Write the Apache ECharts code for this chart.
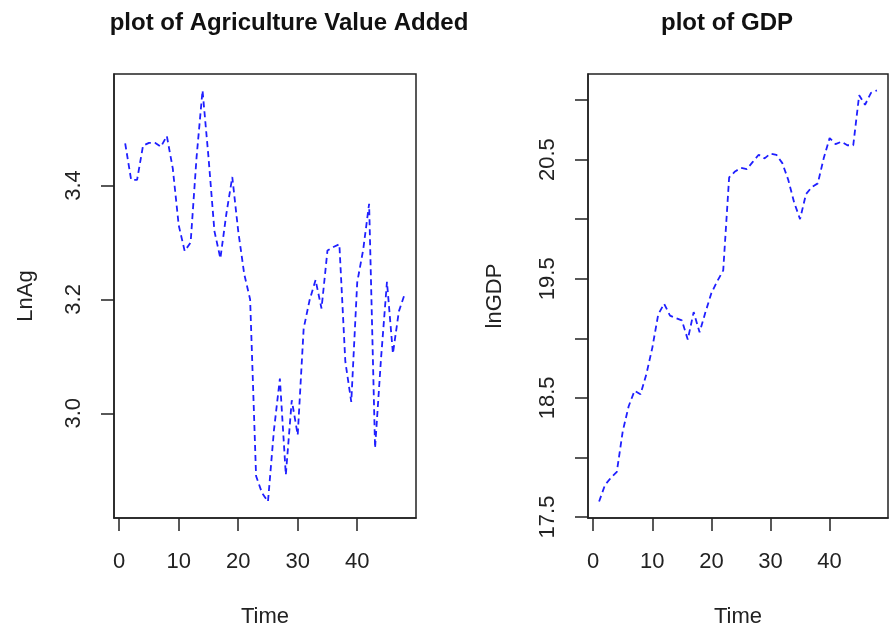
<!DOCTYPE html>
<html>
<head>
<meta charset="utf-8">
<script src="https://cdn.jsdelivr.net/npm/echarts@6/dist/echarts.min.js"></script>
<style>
  html, body { margin: 0; padding: 0; background: #fff; }
  #chart { width: 889px; height: 633px; }
</style>
</head>
<body>
<div id="chart"></div>
<script>
// time index 1..48
const time = [1, 2, 3, 4, 5, 6, 7, 8, 9, 10, 11, 12, 13, 14, 15, 16, 17, 18, 19, 20, 21, 22, 23, 24,
  25, 26, 27, 28, 29, 30, 31, 32, 33, 34, 35, 36, 37, 38, 39, 40, 41, 42, 43, 44, 45, 46, 47, 48];

// log of agriculture value added
const lnAg = [3.474, 3.41, 3.41, 3.47, 3.475, 3.475, 3.468, 3.487, 3.43, 3.33, 3.285, 3.30,
  3.45, 3.567, 3.45, 3.32, 3.272, 3.35, 3.415, 3.32, 3.245, 3.20, 2.89, 2.86,
  2.845, 2.97, 3.061, 2.892, 3.023, 2.962, 3.149, 3.199, 3.234, 3.184, 3.286, 3.292,
  3.297, 3.091, 3.02, 3.23, 3.287, 3.368, 2.939, 3.096, 3.231, 3.105, 3.179, 3.21];

// log of GDP
const lnGDP = [17.63, 17.77, 17.83, 17.88, 18.22, 18.43, 18.56, 18.53, 18.70, 18.92, 19.20, 19.29,
  19.19, 19.17, 19.15, 18.99, 19.22, 19.05, 19.22, 19.38, 19.48, 19.57, 20.35, 20.40,
  20.43, 20.42, 20.48, 20.54, 20.51, 20.55, 20.54, 20.47, 20.33, 20.14, 20.00, 20.21,
  20.27, 20.30, 20.51, 20.68, 20.63, 20.65, 20.62, 20.62, 21.04, 20.96, 21.06, 21.08];

const timeTicks = [0, 10, 20, 30, 40];
const agTicks = [3.0, 3.2, 3.4];
const gdpTicks = [17.5, 18.0, 18.5, 19.0, 19.5, 20.0, 20.5, 21.0];
const gdpLabels = [17.5, 18.5, 19.5, 20.5];

// R style axis range: data range stretched by 4% each side
function rRange(arr) {
  const lo = Math.min(...arr), hi = Math.max(...arr);
  const pad = (hi - lo) * 0.04;
  return [lo - pad, hi + pad];
}

const chart = echarts.init(document.getElementById('chart'));
const font = 'Liberation Sans, Arial, sans-serif';
const ink = '#222';

function xAxisOf(gridIndex) {
  const r = rRange(time);
  return {
    type: 'value',
    gridIndex: gridIndex,
    min: r[0],
    max: r[1],
    name: 'Time',
    nameLocation: 'middle',
    nameGap: 88,
    nameTextStyle: { fontSize: 22, color: ink, fontFamily: font },
    axisLine: { show: true, onZero: false, lineStyle: { color: ink, width: 1.5 } },
    axisTick: { show: true, length: 13, customValues: timeTicks, lineStyle: { color: ink, width: 1.5 } },
    axisLabel: { customValues: timeTicks, fontSize: 22, color: ink, fontFamily: font, margin: 33 },
    splitLine: { show: false }
  };
}

function yAxisOf(gridIndex, name, arr, ticks, labels, gap) {
  const r = rRange(arr);
  return {
    type: 'value',
    gridIndex: gridIndex,
    min: r[0],
    max: r[1],
    name: name,
    nameLocation: 'middle',
    nameGap: gap,
    nameTextStyle: { fontSize: 22, color: ink, fontFamily: font },
    axisLine: { show: true, onZero: false, lineStyle: { color: ink, width: 1.5 } },
    axisTick: { show: true, length: 13, customValues: ticks, lineStyle: { color: ink, width: 1.5 } },
    axisLabel: {
      customValues: labels,
      rotate: 90,
      fontSize: 22,
      color: ink,
      fontFamily: font,
      margin: 29,
      formatter: v => v.toFixed(1)
    },
    splitLine: { show: false }
  };
}

const lineStyle = { color: '#1f1fff', width: 1.8, type: [6, 4] };

const option = {
  animation: false,
  backgroundColor: '#fff',
  graphic: [
    {
      type: 'text', x: 289, y: 23,
      style: { text: 'plot of Agriculture Value Added', fontSize: 24, fontWeight: 'bold',
        fill: '#111', fontFamily: font, align: 'center', verticalAlign: 'middle' }
    },
    {
      type: 'text', x: 727, y: 23,
      style: { text: 'plot of GDP', fontSize: 24, fontWeight: 'bold',
        fill: '#111', fontFamily: font, align: 'center', verticalAlign: 'middle' }
    }
  ],
  grid: [
    { left: 114, right: 473, top: 74, bottom: 113, show: true, borderColor: ink, borderWidth: 1.5 },
    { left: 588, right: 1, top: 74, bottom: 113, show: true, borderColor: ink, borderWidth: 1.5 }
  ],
  xAxis: [xAxisOf(0), xAxisOf(1)],
  yAxis: [
    yAxisOf(0, 'LnAg', lnAg, agTicks, agTicks, 77),
    yAxisOf(1, 'lnGDP', lnGDP, gdpTicks, gdpLabels, 82)
  ],
  series: [
    {
      type: 'line', xAxisIndex: 0, yAxisIndex: 0,
      data: time.map((t, i) => [t, lnAg[i]]),
      showSymbol: false, lineStyle: lineStyle
    },
    {
      type: 'line', xAxisIndex: 1, yAxisIndex: 1,
      data: time.map((t, i) => [t, lnGDP[i]]),
      showSymbol: false, lineStyle: lineStyle
    }
  ]
};

chart.setOption(option);
</script>
</body>
</html>
